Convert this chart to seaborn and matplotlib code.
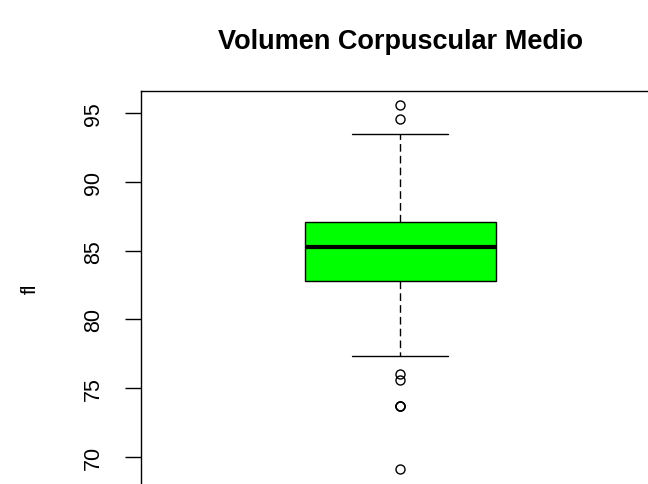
import matplotlib
matplotlib.use("Agg")
import matplotlib.pyplot as plt
import seaborn as sns
import pandas as pd

# Values (fl), chosen so quartiles/whiskers/outliers match
vcm_values = [
    69.1, 73.7, 73.7, 73.7, 75.6, 76.0, 77.3, 79.0, 80.5, 82.0,
    82.8,
    83.1, 83.4, 83.7, 84.0, 84.3, 84.5, 84.7, 84.9, 85.1,
    85.3,
    85.5, 85.7, 85.9, 86.1, 86.3, 86.5, 86.7, 86.9, 87.0,
    87.1,
    87.6, 88.3, 89.0, 89.8, 90.7, 91.6, 92.5, 93.5,
    94.6, 95.6,
]
y_ticks = [70, 75, 80, 85, 90, 95]
title_text = "Volumen Corpuscular Medio"
ylabel_text = "fl"

df = pd.DataFrame({"fl": vcm_values})

sns.set_style("white")
plt.rcParams["font.family"] = ["Liberation Sans", "DejaVu Sans"]
plt.rcParams["text.color"] = "black"

W, H = 648, 485
fig = plt.figure(figsize=(W / 100, H / 100), dpi=100)

# axes in pixel coordinates (extends beyond right and bottom edge like the reference)
left_px, top_px, right_px, bottom_px = 141, 92, 659, 492
ax = fig.add_axes([left_px / W, 1 - bottom_px / H,
                   (right_px - left_px) / W, (bottom_px - top_px) / H])

sns.boxplot(
    data=df, y="fl", ax=ax, width=0.8, color="#00FF00", saturation=1,
    linecolor="black", linewidth=1,
    whiskerprops=dict(linestyle=(0, (5.5, 3)), color="black", linewidth=1),
    capprops=dict(color="black", linewidth=1),
    medianprops=dict(color="black", linewidth=3),
    boxprops=dict(edgecolor="black", linewidth=1),
    flierprops=dict(marker="o", markerfacecolor="none", markeredgecolor="black",
                    markersize=6.5, markeredgewidth=1),
)

# y scale: 95 at y=114.3 px, 13.74 px per unit
px_per_unit = 13.74
y95 = 114.3
ytop = 95 + (y95 - top_px) / px_per_unit
ybot = 95 - (bottom_px - y95) / px_per_unit
ax.set_ylim(ybot, ytop)
half = 0.8 / 2 * (right_px - left_px) / 191.0
ax.set_xlim(-half, half)

ax.set_yticks(y_ticks)
ax.set_yticklabels([str(t) for t in y_ticks], rotation=90, va="center", fontsize=15.5)
ax.tick_params(axis="y", direction="out", length=11.5, width=1, color="black",
               left=True, pad=15, labelcolor="black")
ax.set_xticks([])
ax.set_xlabel("")
ax.set_ylabel(ylabel_text, fontsize=15, color="black", va="center")
ax.yaxis.set_label_coords((30 - left_px) / (right_px - left_px),
                          (bottom_px - 289) / (bottom_px - top_px))
for s in ax.spines.values():
    s.set_visible(True)
    s.set_color("black")
    s.set_linewidth(1)

fig.text(400 / W, 1 - 42 / H, title_text, ha="center", va="center",
         fontsize=19.5, fontweight="bold", color="black")

fig.savefig("out.png", dpi=100)
